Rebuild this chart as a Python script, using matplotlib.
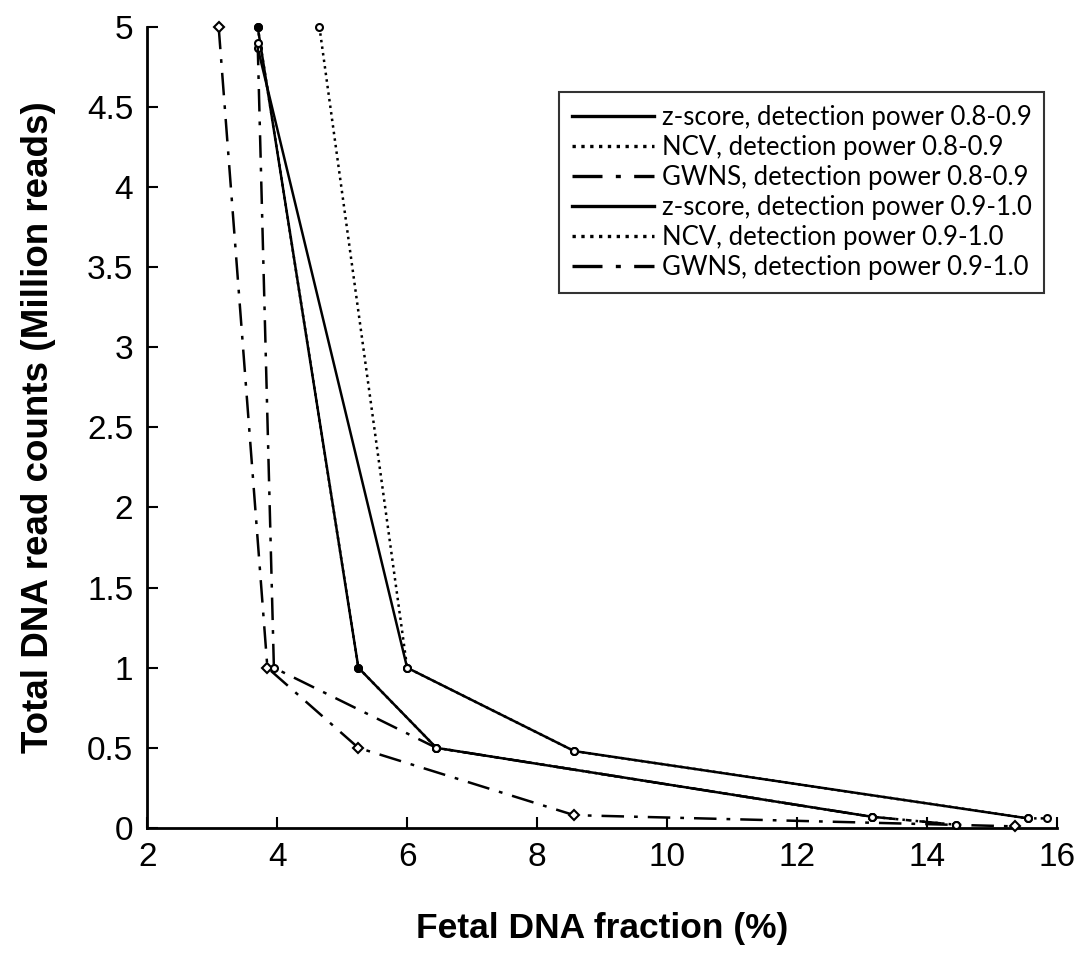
import matplotlib
matplotlib.use("Agg")
import matplotlib.pyplot as plt

# --- datos ---
z_89_x = [3.7, 6.0, 8.57, 15.55]
z_89_y = [4.87, 1.0, 0.48, 0.06]
ncv_89_x = [4.65, 6.0, 8.57, 15.55, 15.85]
ncv_89_y = [5.0, 1.0, 0.48, 0.06, 0.06]
gw_89_x = [3.1, 3.85, 5.25, 8.57, 15.35]
gw_89_y = [5.0, 1.0, 0.5, 0.08, 0.01]
z_910_x = [3.7, 5.25, 6.45, 13.15]
z_910_y = [5.0, 1.0, 0.5, 0.07]
ncv_910_x = [3.7, 5.25, 6.45, 13.15, 14.45]
ncv_910_y = [5.0, 1.0, 0.5, 0.07, 0.02]
gw_910_x = [3.7, 3.95, 6.45, 13.15, 14.45]
gw_910_y = [4.9, 1.0, 0.5, 0.07, 0.02]

x_ticks = [2, 4, 6, 8, 10, 12, 14, 16]
y_ticks = [0, 0.5, 1, 1.5, 2, 2.5, 3, 3.5, 4, 4.5, 5]

dashdot = (0, (9, 4, 1.5, 4))

fig = plt.figure(figsize=(10.82, 9.55), dpi=100)
ax = fig.add_axes([0.136, 0.133, 0.841, 0.839])

series = [
    (z_89_x, z_89_y, 'z-score, detection power 0.8-0.9', '-', 'o', 'white'),
    (ncv_89_x, ncv_89_y, 'NCV, detection power 0.8-0.9', ':', 'o', 'white'),
    (gw_89_x, gw_89_y, 'GWNS, detection power 0.8-0.9', dashdot, 'D', 'white'),
    (z_910_x, z_910_y, 'z-score, detection power 0.9-1.0', '-', 'o', 'black'),
    (ncv_910_x, ncv_910_y, 'NCV, detection power 0.9-1.0', ':', 'o', 'black'),
    (gw_910_x, gw_910_y, 'GWNS, detection power 0.9-1.0', dashdot, 'o', 'white'),
]

handles = []
for xs, ys, lab, ls, mk, mfc in series:
    ax.plot(xs, ys, color='black', linestyle=ls, linewidth=1.8, marker=mk,
            markersize=5, markerfacecolor=mfc, markeredgecolor='black',
            markeredgewidth=1.5, clip_on=False, zorder=3)
    h, = ax.plot([], [], color='black', linestyle=ls, linewidth=2.4, label=lab)
    handles.append(h)

ax.set_xlim(2, 16)
ax.set_ylim(0, 5)
ax.set_xticks(x_ticks)
ax.set_yticks(y_ticks)
ax.set_xticklabels([str(t) for t in x_ticks])
ax.set_yticklabels(['0', '0.5', '1', '1.5', '2', '2.5', '3', '3.5', '4', '4.5', '5'])
ax.tick_params(direction='in', length=8, width=1.5, labelsize=24, pad=10)
for lbl in ax.get_xticklabels() + ax.get_yticklabels():
    lbl.set_family('Liberation Sans')

ax.spines['top'].set_visible(False)
ax.spines['right'].set_visible(False)
ax.spines['left'].set_linewidth(2)
ax.spines['bottom'].set_linewidth(2)

ax.set_xlabel('Fetal DNA fraction (%)', fontsize=25.5, fontweight='bold',
              family='Liberation Sans', labelpad=28)
ax.set_ylabel('Total DNA read counts (Million reads)', fontsize=26.5,
              fontweight='bold', family='Liberation Sans', labelpad=22)

leg = ax.legend(handles=handles, loc='upper right', bbox_to_anchor=(1.0, 0.935),
                prop={'family': 'Lato', 'size': 18.5}, frameon=True, fancybox=False,
                handlelength=3.2, labelspacing=0.2, borderpad=0.5,
                handletextpad=0.3)
leg.get_frame().set_edgecolor('black')
leg.get_frame().set_linewidth(1.5)

fig.savefig('out.png', dpi=100, facecolor='white')
